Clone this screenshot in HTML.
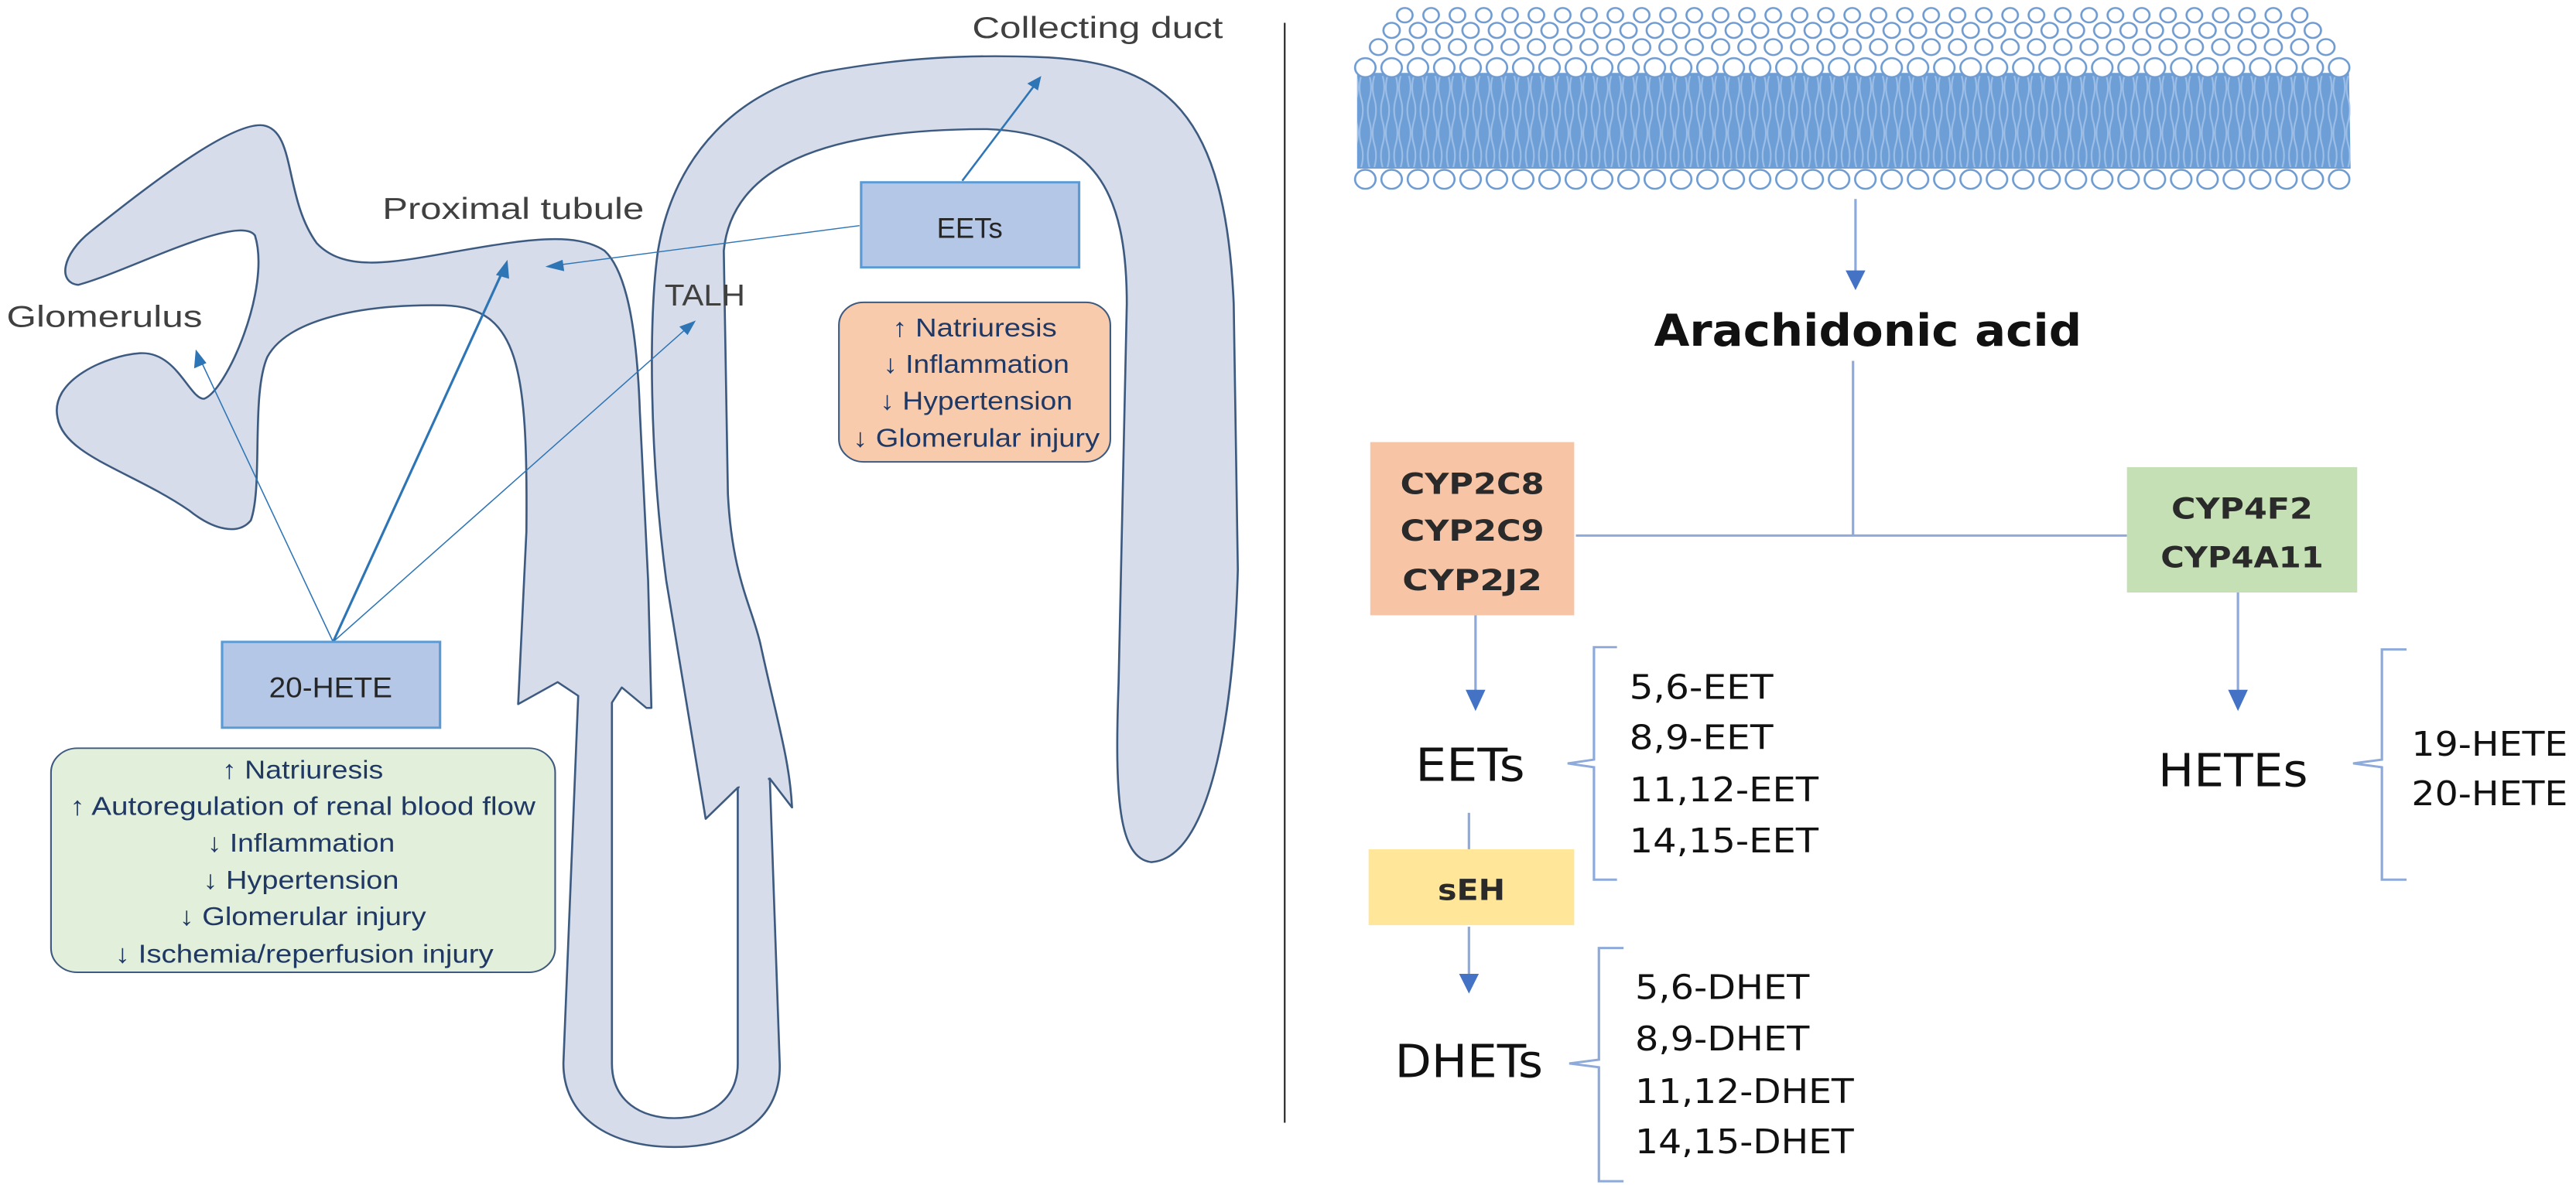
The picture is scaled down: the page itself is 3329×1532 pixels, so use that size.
<!DOCTYPE html>
<html><head><meta charset="utf-8"><style>html,body{margin:0;padding:0;background:#fff}svg{display:block}</style></head>
<body>
<svg width="3329" height="1532" viewBox="0 0 3132 1560" preserveAspectRatio="none" xmlns="http://www.w3.org/2000/svg">
<defs>
<pattern id="c1" patternUnits="userSpaceOnUse" x="78" y="74" width="32" height="30"><circle cx="16" cy="15" r="12.5" fill="#fff" stroke="#6f9bd0" stroke-width="2.5"/></pattern>
<pattern id="c2" patternUnits="userSpaceOnUse" x="78" y="222" width="32" height="30"><circle cx="16" cy="14" r="12.5" fill="#fff" stroke="#6f9bd0" stroke-width="2.5"/></pattern>
<pattern id="c3" patternUnits="userSpaceOnUse" x="94" y="50" width="32" height="24"><circle cx="16" cy="12" r="10.5" fill="#fff" stroke="#6f9bd0" stroke-width="2.5"/></pattern>
<pattern id="c4" patternUnits="userSpaceOnUse" x="110" y="28" width="32" height="24"><circle cx="16" cy="12" r="10" fill="#fff" stroke="#6f9bd0" stroke-width="2.5"/></pattern>
<pattern id="c5" patternUnits="userSpaceOnUse" x="126" y="8" width="32" height="24"><circle cx="16" cy="12" r="9.5" fill="#fff" stroke="#6f9bd0" stroke-width="2.5"/></pattern>
<pattern id="tails" patternUnits="userSpaceOnUse" x="78" y="100" width="16" height="60"><path d="M5 0 q4 15 0 30 q-4 15 0 30 M11 0 q-4 15 0 30 q4 15 0 30" fill="none" stroke="#a9c6ea" stroke-width="2"/></pattern>
</defs>

<line x1="1562" y1="30" x2="1562" y2="1478" stroke="#222" stroke-width="2"/>

<g fill="#d6dce9" stroke="#3d5a80" stroke-width="2.5" stroke-linejoin="round">
<!-- TALH + collecting duct -->
<path d="M858,1078 L810,764 C790,600 788,420 800,330 C820,200 900,120 1000,95 C1100,75 1180,72 1260,75 C1420,80 1490,150 1500,400 L1505,750 C1500,950 1470,1130 1400,1135 C1360,1130 1355,1050 1360,900 L1370,400 C1370,250 1330,175 1200,170 C1000,170 890,220 880,330 L885,650 C890,760 915,800 925,850 C945,950 960,1000 963,1063 L936,1025 L897,1037 Z"/>
<!-- glomerulus + proximal + thin loop -->
<path d="M70,550 C60,500 130,468 170,465 C215,462 230,525 248,525 C275,515 330,380 310,310 C290,280 150,360 95,375 C70,372 75,335 110,305 C180,245 280,160 320,165 C360,172 345,260 385,320 C420,360 480,345 560,330 C640,315 700,305 735,330 C765,360 775,450 778,543 L788,764 L792,932 L786,932 L756,905 L744,925 L744,1400 C744,1450 780,1472 820,1472 C860,1472 897,1450 897,1400 L897,1037 L936,1025 L948,1400 C950,1470 900,1510 820,1510 C740,1510 685,1470 685,1400 L703,916 L678,898 L630,927 L640,700 C642,480 630,405 540,402 C440,400 350,420 325,470 C305,520 320,640 305,685 C290,705 260,698 230,672 C160,620 78,600 70,550 Z"/>
</g>
<path d="M899,1039 L934,1027 L928,985 L902,990 Z" fill="#d6dce9"/>

<g stroke="#2e75b6" fill="#2e75b6">
<line x1="405" y1="845" x2="243" y2="472" stroke-width="1.5"/>
<path d="M238,460 L236,485 L251,478 Z" stroke="none"/>
<line x1="405" y1="845" x2="612" y2="355" stroke-width="3"/>
<path d="M617,342 L603,362 L619,367 Z" stroke="none"/>
<line x1="405" y1="845" x2="835" y2="432" stroke-width="1.5"/>
<path d="M846,422 L826,430 L836,441 Z" stroke="none"/>
<line x1="1045" y1="297" x2="678" y2="349" stroke-width="1.5"/>
<path d="M663,351 L684,342 L686,357 Z" stroke="none"/>
<line x1="1170" y1="238" x2="1258" y2="112" stroke-width="2.5"/>
<path d="M1266,100 L1249,110 L1262,119 Z" stroke="none"/>
</g>

<g font-family="'Liberation Sans',sans-serif" fill="#404040" font-size="40">
<text x="1182" y="50" textLength="305" lengthAdjust="spacingAndGlyphs">Collecting duct</text>
<text x="465" y="288" textLength="318" lengthAdjust="spacingAndGlyphs">Proximal tubule</text>
<text x="8" y="430" textLength="238" lengthAdjust="spacingAndGlyphs">Glomerulus</text>
<text x="808" y="402" textLength="98" lengthAdjust="spacingAndGlyphs">TALH</text>
</g>

<rect x="1047" y="240" width="265" height="112" fill="#b4c7e7" stroke="#5b9bd5" stroke-width="3"/>
<text x="1179" y="313" text-anchor="middle" font-family="'Liberation Sans',sans-serif" font-size="38" fill="#262626" textLength="80" lengthAdjust="spacingAndGlyphs">EETs</text>
<rect x="1020" y="398" width="330" height="210" rx="30" fill="#f8cbad" stroke="#3d5a80" stroke-width="2"/>
<g font-family="'Liberation Sans',sans-serif" font-size="34" fill="#1f3864" text-anchor="middle">
<text x="1185" y="443" textLength="200" lengthAdjust="spacingAndGlyphs">↑ Natriuresis</text>
<text x="1187" y="491" textLength="226" lengthAdjust="spacingAndGlyphs">↓ Inflammation</text>
<text x="1187" y="539" textLength="234" lengthAdjust="spacingAndGlyphs">↓ Hypertension</text>
<text x="1187" y="588" textLength="300" lengthAdjust="spacingAndGlyphs">↓ Glomerular  injury</text>
</g>
<rect x="270" y="845" width="265" height="113" fill="#b4c7e7" stroke="#5b9bd5" stroke-width="3"/>
<text x="402" y="918" text-anchor="middle" font-family="'Liberation Sans',sans-serif" font-size="38" fill="#262626" textLength="150" lengthAdjust="spacingAndGlyphs">20-HETE</text>
<rect x="62" y="985" width="613" height="295" rx="32" fill="#e2efda" stroke="#3d5a80" stroke-width="2"/>
<g font-family="'Liberation Sans',sans-serif" font-size="34" fill="#1f3864" text-anchor="middle">
<text x="368" y="1025" textLength="196" lengthAdjust="spacingAndGlyphs">↑ Natriuresis</text>
<text x="368" y="1073" textLength="566" lengthAdjust="spacingAndGlyphs">↑ Autoregulation  of renal  blood  flow</text>
<text x="366" y="1121" textLength="228" lengthAdjust="spacingAndGlyphs">↓ Inflammation</text>
<text x="366" y="1170" textLength="238" lengthAdjust="spacingAndGlyphs">↓ Hypertension</text>
<text x="368" y="1218" textLength="300" lengthAdjust="spacingAndGlyphs">↓ Glomerular  injury</text>
<text x="370" y="1267" textLength="460" lengthAdjust="spacingAndGlyphs">↓ Ischemia/reperfusion  injury</text>
</g>

<g transform="translate(1566,0)">
<path d="M84,96 L1290,96 L1292,222 L84,222 Z" fill="#6d9fd6"/>
<rect x="84" y="100" width="1208" height="120" fill="url(#tails)" opacity="0.8"/>
<rect x="126" y="8" width="1120" height="24" fill="url(#c5)"/>
<rect x="110" y="28" width="1150" height="24" fill="url(#c4)"/>
<rect x="94" y="50" width="1180" height="24" fill="url(#c3)"/>
<rect x="78" y="74" width="1218" height="30" fill="url(#c1)"/>
<rect x="78" y="222" width="1218" height="30" fill="url(#c2)"/>

<g stroke="#8eaadb" stroke-width="3" fill="none">
<line x1="690" y1="262" x2="690" y2="360"/>
<line x1="687" y1="475" x2="687" y2="705"/>
<line x1="350" y1="705" x2="1020" y2="705"/>
<line x1="228" y1="810" x2="228" y2="912"/>
<line x1="220" y1="1070" x2="220" y2="1118"/>
<line x1="220" y1="1220" x2="220" y2="1285"/>
<line x1="1155" y1="780" x2="1155" y2="912"/>
<path d="M400,852 L372,852 L372,1000 L340,1005 L372,1010 L372,1158 L400,1158"/>
<path d="M408,1248 L378,1248 L378,1395 L342,1400 L378,1405 L378,1555 L408,1555"/>
<path d="M1360,855 L1330,855 L1330,1000 L1295,1005 L1330,1010 L1330,1158 L1360,1158"/>
</g>
<g fill="#4472c4">
<path d="M678,356 L702,356 L690,382 Z"/>
<path d="M216,908 L240,908 L228,936 Z"/>
<path d="M208,1282 L232,1282 L220,1308 Z"/>
<path d="M1143,908 L1167,908 L1155,936 Z"/>
</g>

<text x="705" y="455" text-anchor="middle" font-family="'DejaVu Sans',sans-serif" font-weight="bold" font-size="58" fill="#111" textLength="520" lengthAdjust="spacingAndGlyphs">Arachidonic acid</text>

<rect x="100" y="582" width="248" height="228" fill="#f7c4a5"/>
<g font-family="'DejaVu Sans',sans-serif" font-weight="bold" font-size="38" fill="#2a2a2a" text-anchor="middle">
<text x="224" y="650" textLength="175" lengthAdjust="spacingAndGlyphs">CYP2C8</text>
<text x="224" y="712" textLength="175" lengthAdjust="spacingAndGlyphs">CYP2C9</text>
<text x="224" y="777" textLength="170" lengthAdjust="spacingAndGlyphs">CYP2J2</text>
</g>
<rect x="1020" y="615" width="280" height="165" fill="#c5e0b4"/>
<g font-family="'DejaVu Sans',sans-serif" font-weight="bold" font-size="38" fill="#2a2a2a" text-anchor="middle">
<text x="1160" y="683" textLength="172" lengthAdjust="spacingAndGlyphs">CYP4F2</text>
<text x="1160" y="747" textLength="198" lengthAdjust="spacingAndGlyphs">CYP4A11</text>
</g>
<rect x="98" y="1118" width="250" height="100" fill="#ffe699"/>
<text x="223" y="1185" text-anchor="middle" font-family="'DejaVu Sans',sans-serif" font-weight="bold" font-size="38" fill="#2a2a2a" textLength="82" lengthAdjust="spacingAndGlyphs">sEH</text>

<g font-family="'DejaVu Sans',sans-serif" fill="#111">
<text x="155" y="1028" font-size="60" textLength="133" lengthAdjust="spacingAndGlyphs">EETs</text>
<text x="130" y="1418" font-size="60" textLength="180" lengthAdjust="spacingAndGlyphs">DHETs</text>
<text x="1058" y="1035" font-size="60" textLength="182" lengthAdjust="spacingAndGlyphs">HETEs</text>
<g font-size="44">
<text x="415" y="920" textLength="175" lengthAdjust="spacingAndGlyphs">5,6-EET</text>
<text x="415" y="986" textLength="175" lengthAdjust="spacingAndGlyphs">8,9-EET</text>
<text x="415" y="1055" textLength="230" lengthAdjust="spacingAndGlyphs">11,12-EET</text>
<text x="415" y="1122" textLength="230" lengthAdjust="spacingAndGlyphs">14,15-EET</text>
<text x="422" y="1315" textLength="212" lengthAdjust="spacingAndGlyphs">5,6-DHET</text>
<text x="422" y="1383" textLength="212" lengthAdjust="spacingAndGlyphs">8,9-DHET</text>
<text x="422" y="1452" textLength="266" lengthAdjust="spacingAndGlyphs">11,12-DHET</text>
<text x="422" y="1518" textLength="266" lengthAdjust="spacingAndGlyphs">14,15-DHET</text>
<text x="1366" y="995" textLength="190" lengthAdjust="spacingAndGlyphs">19-HETE</text>
<text x="1366" y="1060" textLength="190" lengthAdjust="spacingAndGlyphs">20-HETE</text>
</g>
</g>
</g>
</svg>
</body></html>
